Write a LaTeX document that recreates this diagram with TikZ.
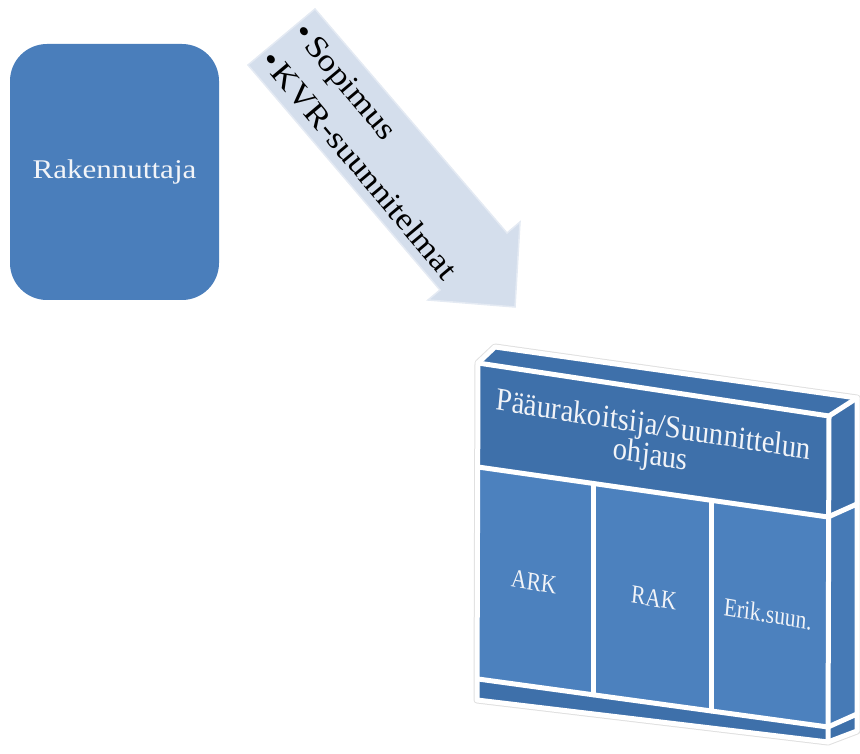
\documentclass[tikz,border=0pt]{standalone}
\usepackage{fontspec}
\setmainfont{Liberation Serif}[FakeStretch=1.15]
\usetikzlibrary{calc}

\definecolor{rakblue}{RGB}{74,126,187}
\definecolor{facemid}{RGB}{76,129,190}
\definecolor{facedark}{RGB}{62,112,170}
\definecolor{sidemid}{RGB}{70,122,182}
\definecolor{arrowfill}{RGB}{212,222,236}
\definecolor{arrowedge}{RGB}{228,234,243}
\definecolor{rim}{RGB}{224,224,224}
\definecolor{labelwhite}{RGB}{242,244,248}

\begin{document}
\begin{tikzpicture}[x=1pt,y=-1pt,
  edge/.style={draw=white, line width=5pt, line join=round, line cap=round},
  slablabel/.style={text=labelwhite, inner sep=0pt},
  boxtext/.style={slablabel, xscale=0.72, rotate=-7,
                  font=\fontsize{26}{28}\selectfont},
  arrowtext/.style={text=black, inner sep=0pt, rotate=-50, anchor=base west,
                    font=\fontsize{31}{40}\selectfont}]

\useasboundingbox (0,0) rectangle (860,754);

% client box
\node[fill=rakblue, rounded corners=37pt, minimum width=209pt, minimum height=256pt,
      inner sep=0pt, text=labelwhite, font=\fontsize{27}{32}\selectfont]
      (rak) at (114.5,172) {Rakennuttaja};

% block arrow
\coordinate (a1) at (248,65);
\coordinate (a2) at (315,9);
\coordinate (a3) at (507,233);
\coordinate (a4) at (520,222);
\coordinate (a5) at (515,307);
\coordinate (a6) at (428,300);
\coordinate (a7) at (440,290);
\filldraw[fill=arrowfill, draw=arrowedge, line width=1.5pt, line join=miter]
  (a1) -- (a2) -- (a3) -- (a4) -- (a5) -- (a6) -- (a7) -- cycle;
\node[arrowtext] (sop) at (292.5,33.5) {\textbullet\hspace{4pt}Sopimus};
\node[arrowtext] (kvr) at (259,61) {\textbullet\hspace{4pt}KVR-suunnitelmat};

% slab corners
\coordinate (TBL) at (495,347);
\coordinate (TBR) at (857,398);
\coordinate (FTL) at (478,363);
\coordinate (FTR) at (829,416);
\coordinate (FBL) at (477,700);
\coordinate (FBR) at (828,742);
\coordinate (RBB) at (857,731);
\coordinate (HL) at (478,467);
\coordinate (HR) at (828,517);
\coordinate (RH) at (857,504);
\coordinate (BL) at (478,679);
\coordinate (BR) at (828,727);
\coordinate (RB) at (857,714);
\coordinate (D1t) at ($(HL)!0.3286!(HR)$);
\coordinate (D1b) at ($(BL)!0.3286!(BR)$);
\coordinate (D2t) at ($(HL)!0.6657!(HR)$);
\coordinate (D2b) at ($(BL)!0.6657!(BR)$);

% faint outer rim
\draw[rim, line width=7pt, line join=round]
  (TBL) -- (TBR) -- (RBB) -- (FBR) -- (FBL) -- (FTL) -- cycle;

% faces
\fill[facedark] (TBL) -- (TBR) -- (FTR) -- (FTL) -- cycle;
\fill[sidemid] (FTR) -- (TBR) -- (RBB) -- (FBR) -- cycle;
\fill[facedark] (FTR) -- (TBR) -- (RH) -- (HR) -- cycle;
\fill[facedark] (BR) -- (RB) -- (RBB) -- (FBR) -- cycle;
\fill[facedark] (FTL) -- (FTR) -- (HR) -- (HL) -- cycle;
\fill[facemid] (HL) -- (HR) -- (BR) -- (BL) -- cycle;
\fill[facedark] (BL) -- (BR) -- (FBR) -- (FBL) -- cycle;

% white edges
\draw[edge] (TBL) -- (TBR) -- (RBB) -- (FBR) -- (FBL) -- (FTL) -- cycle;
\draw[edge] (FTL) -- (FTR) -- (TBR);
\draw[edge] (FTR) -- (FBR);
\draw[edge] (HL) -- (HR) -- (RH);
\draw[edge] (BL) -- (BR) -- (RB);
\draw[edge] (D1t) -- (D1b);
\draw[edge] (D2t) -- (D2b);

% labels on the slab
\node[slablabel, xscale=0.78, rotate=-7, font=\fontsize{32}{28}\selectfont, align=center]
  (head) at (652,442) {Pääurakoitsija/Suunnittelun\\ohjaus};
\node[boxtext] (ark) at (534,582) {ARK};
\node[boxtext] (rakd) at (654,598) {RAK};
\node[boxtext] (erik) at (768,614) {Erik.suun.};

\end{tikzpicture}
\end{document}
